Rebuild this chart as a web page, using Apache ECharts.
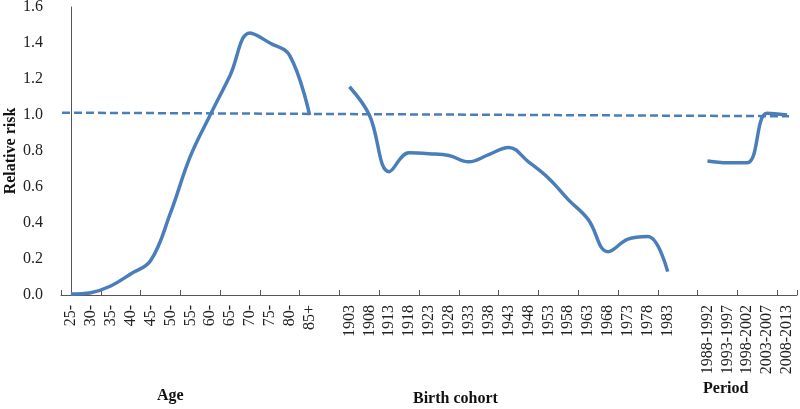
<!DOCTYPE html>
<html><head><meta charset="utf-8">
<script src="https://cdn.jsdelivr.net/npm/echarts@6/dist/echarts.min.js"></script>
<style>html,body{margin:0;padding:0;background:#fff}#c{width:800px;height:409px}</style>
</head><body><div id="c"></div>
<script>
var ageLabels = ['25-','30-','35-','40-','45-','50-','55-','60-','65-','70-','75-','80-','85+'];
var cohortLabels = ['1903','1908','1913','1918','1923','1928','1933','1938','1943','1948','1953','1958','1963','1968','1973','1978','1983'];
var periodLabels = ['1988-1992','1993-1997','1998-2002','2003-2007','2008-2013'];
var ageValues = [0.005,0.013,0.05,0.117,0.19,0.455,0.77,1.0,1.22,1.455,1.40,1.33,1.0];
var cohortValues = [1.157,1.0,0.685,0.79,0.785,0.775,0.74,0.78,0.82,0.74,0.65,0.53,0.42,0.24,0.31,0.325,0.13];
var periodValues = [0.745,0.735,0.735,1.01,1.0];
var refStart = [-0.45, 1.013];
var refEnd = [36.1, 0.993];

var categories = [].concat(ageLabels, [''], cohortLabels, [''], periodLabels);
var n = categories.length;
function seg(offset, vals){
  var d = new Array(n).fill(null);
  vals.forEach(function(v,i){ d[offset+i] = v; });
  return d;
}
var ageData = seg(0, ageValues);
var cohortData = seg(ageLabels.length+1, cohortValues);
var periodData = seg(ageLabels.length+cohortLabels.length+2, periodValues);

var color = '#4a7ebb';
var font = 'Liberation Serif';
var axisColor = '#555';
var chart = echarts.init(document.getElementById('c'));
var lineStyle = {color: color, width: 3.5};
chart.setOption({
  animation: false,
  grid: {left: 61, right: 3, top: 7, bottom: 114, containLabel: false, outerBoundsMode: 'none'},
  xAxis: [{
    type: 'category', data: categories, boundaryGap: true,
    axisLine: {lineStyle: {color: axisColor, width: 1}},
    axisTick: {show: true, inside: true, interval: 1, length: 5, lineStyle: {color: axisColor}},
    axisLabel: {interval: 0, rotate: 90, fontFamily: font, fontSize: 16, color: '#222', margin: 10}
  },{
    type: 'value', min: -0.5, max: n-0.5, show: false
  }],
  yAxis: {
    type: 'value', min: 0, max: 1.6, interval: 0.2,
    name: 'Relative risk', nameLocation: 'middle', nameGap: 42, nameMoveOverlap: false,
    nameTextStyle: {fontFamily: font, fontSize: 16, fontWeight: 'bold', color: '#111'},
    axisLine: {show: true, lineStyle: {color: axisColor}},
    axisTick: {show: false},
    splitLine: {show: false},
    axisLabel: {fontFamily: font, fontSize: 16, color: '#222', margin: 18,
      formatter: function(v){ return v.toFixed(1); }}
  },
  series: [
    {type: 'line', xAxisIndex: 1, data: [refStart, refEnd], symbol: 'none',
     lineStyle: {color: color, width: 2.5, type: [8,4]}, z: 1},
    {type: 'line', data: ageData, smooth: 0.4, symbol: 'none', lineStyle: lineStyle, connectNulls: false},
    {type: 'line', data: cohortData, smooth: 0.4, symbol: 'none', lineStyle: lineStyle, connectNulls: false},
    {type: 'line', data: periodData, smooth: 0.4, symbol: 'none', lineStyle: lineStyle, connectNulls: false}
  ],
  graphic: [
    {type: 'text', left: 157, top: 388, style: {text: 'Age', font: 'bold 16px "Liberation Serif"', fill: '#111'}},
    {type: 'text', left: 413, top: 391, style: {text: 'Birth cohort', font: 'bold 16px "Liberation Serif"', fill: '#111'}},
    {type: 'text', left: 703, top: 381, style: {text: 'Period', font: 'bold 16px "Liberation Serif"', fill: '#111'}}
  ]
});
</script></body></html>
